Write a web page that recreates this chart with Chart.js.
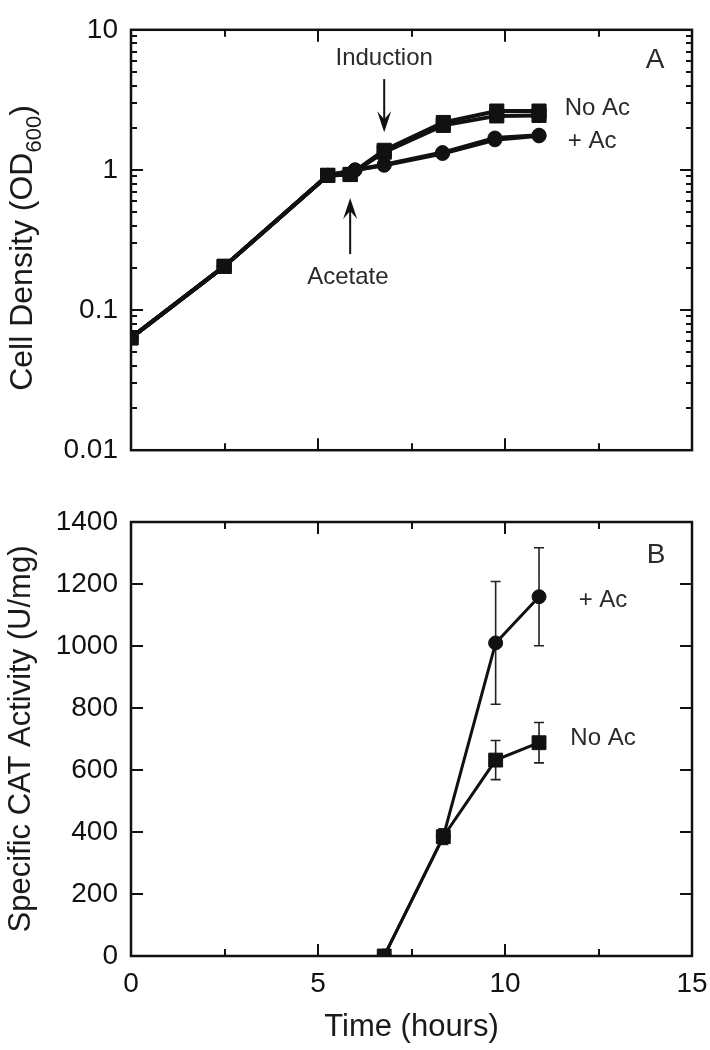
<!DOCTYPE html>
<html>
<head>
<meta charset="utf-8">
<script src="https://cdn.jsdelivr.net/npm/chart.js@4.4.1/dist/chart.umd.min.js"></script>
<style>
  html, body { margin: 0; padding: 0; background: #fff; }
  #wrap { position: relative; width: 710px; height: 1050px; }
  #wrapA { position: absolute; left: 0; top: 0; width: 710px; height: 480px; }
  #wrapB { position: absolute; left: 0; top: 480px; width: 710px; height: 570px; }
</style>
</head>
<body>
<div id="wrap">
  <div id="wrapA"><canvas id="growth"></canvas></div>
  <div id="wrapB"><canvas id="cat"></canvas></div>
</div>
<script>
// panel A - cell density, two cultures each
const timeNoAc = [0, 2.49, 5.26, 5.86, 6.77, 8.35, 9.78, 10.91];
const odNoAc1 = [0.0634, 0.205, 0.914, 0.928, 1.38, 2.18, 2.63, 2.63];
const odNoAc2 = [0.0634, 0.205, 0.914, 0.928, 1.34, 2.08, 2.43, 2.45];
const timeAc = [0, 2.49, 5.26, 5.99, 6.77, 8.33, 9.73, 10.91];
const odAc1 = [0.0634, 0.205, 0.914, 1.0, 1.09, 1.33, 1.69, 1.77];
const odAc2 = [0.0634, 0.205, 0.914, 1.0, 1.08, 1.31, 1.64, 1.75];

// panel B - specific CAT activity (U/mg)
const timeCat = [6.77, 8.35, 9.75, 10.91];
const catNoAc = [0, 385, 632, 688];
const catNoAcErr = [0, 25, 63, 65];
const catAc = [0, 385, 1010, 1159];
const catAcErr = [0, 25, 198, 158];

// axis ticks
const xTicks = [0, 5, 10, 15];
const xLabels = ['0', '5', '10', '15'];
const xMinor = [2.5, 7.5, 12.5];
const yTicksA = [0.01, 0.1, 1, 10];
const yLabelsA = ['0.01', '0.1', '1', '10'];
const yMinorA = [0.01, 0.1, 1].flatMap(d => [2, 3, 4, 5, 6, 7, 8, 9].map(k => k * d));
const yTicksB = [0, 200, 400, 600, 800, 1000, 1200, 1400];
const yLabelsB = ['0', '200', '400', '600', '800', '1000', '1200', '1400'];

const FONT = '"Liberation Sans", Arial, Helvetica, sans-serif';
const INK = '#111';

function pts(xs, ys) {
    return xs.map((t, i) => ({ x: t, y: ys[i] }));
}

function series(xs, ys, style, width, rectR, circR) {
    return {
        data: pts(xs, ys),
        borderColor: INK,
        backgroundColor: INK,
        borderWidth: width,
        pointStyle: style,
        pointRadius: style === 'rect' ? rectR : circR,
        pointBorderWidth: 1,
        pointBackgroundColor: INK,
        pointBorderColor: INK,
        tension: 0
    };
}

// frame with inward ticks on all four sides
function frameTicks(yMajor, yMinor) {
    return {
        id: 'frameTicks',
        beforeDatasetsDraw(chart) {
            const { ctx, chartArea: a, scales: { x, y } } = chart;
            ctx.save();
            ctx.strokeStyle = INK;
            ctx.lineWidth = 2;
            ctx.beginPath();
            const tx = (vals, len) => vals.forEach(v => {
                const px = Math.round(x.getPixelForValue(v));
                ctx.moveTo(px, a.bottom); ctx.lineTo(px, a.bottom - len);
                ctx.moveTo(px, a.top); ctx.lineTo(px, a.top + len);
            });
            const ty = (vals, len) => vals.forEach(v => {
                const py = Math.round(y.getPixelForValue(v));
                ctx.moveTo(a.left, py); ctx.lineTo(a.left + len, py);
                ctx.moveTo(a.right, py); ctx.lineTo(a.right - len, py);
            });
            tx(xTicks, 12);
            tx(xMinor, 7);
            ty(yMajor, 12);
            ty(yMinor, 6);
            ctx.stroke();
            ctx.lineWidth = 2.5;
            ctx.strokeRect(a.left, a.top, a.right - a.left, a.bottom - a.top);
            ctx.restore();
        }
    };
}

function arrow(ctx, x, y0, y1) {
    const dir = Math.sign(y1 - y0);
    ctx.beginPath();
    ctx.moveTo(x, y0);
    ctx.lineTo(x, y1 - dir * 12);
    ctx.stroke();
    ctx.beginPath();
    ctx.moveTo(x, y1);
    ctx.lineTo(x - 7, y1 - dir * 21);
    ctx.lineTo(x, y1 - dir * 13);
    ctx.lineTo(x + 7, y1 - dir * 21);
    ctx.closePath();
    ctx.fill();
}

// text notes, placed in data units
function notes(texts, arrows) {
    return {
        id: 'notes',
        afterDatasetsDraw(chart) {
            const { ctx, scales: { x, y } } = chart;
            ctx.save();
            ctx.fillStyle = '#2a2a2a';
            ctx.strokeStyle = INK;
            ctx.lineWidth = 2;
            ctx.textAlign = 'center';
            ctx.textBaseline = 'middle';
            texts.forEach(n => {
                ctx.font = n.size + 'px ' + FONT;
                ctx.fillText(n.text, x.getPixelForValue(n.x), y.getPixelForValue(n.y));
            });
            ctx.fillStyle = INK;
            arrows.forEach(n => {
                arrow(ctx, x.getPixelForValue(n.x), y.getPixelForValue(n.from), y.getPixelForValue(n.to));
            });
            ctx.restore();
        }
    };
}

// y title with subscript for panel A
const odTitle = {
    id: 'odTitle',
    afterDraw(chart) {
        const { ctx, chartArea: a } = chart;
        const parts = [
            ['Cell Density (OD', 32, 0],
            ['600', 22, 9],
            [')', 32, 0]
        ];
        ctx.save();
        ctx.translate(21, (a.top + a.bottom) / 2 + 8);
        ctx.rotate(-Math.PI / 2);
        ctx.fillStyle = '#1a1a1a';
        ctx.textBaseline = 'alphabetic';
        ctx.textAlign = 'left';
        let total = 0;
        parts.forEach(p => { ctx.font = p[1] + 'px ' + FONT; total += ctx.measureText(p[0]).width; });
        let cx = -total / 2;
        parts.forEach(p => {
            ctx.font = p[1] + 'px ' + FONT;
            ctx.fillText(p[0], cx, 11 + p[2]);
            cx += ctx.measureText(p[0]).width;
        });
        ctx.restore();
    }
};

const errorBars = {
    id: 'errorBars',
    beforeDatasetsDraw(chart) {
        const { ctx, scales: { x, y } } = chart;
        const sets = [[catNoAc, catNoAcErr], [catAc, catAcErr]];
        ctx.save();
        ctx.strokeStyle = '#222';
        ctx.lineWidth = 1.6;
        ctx.beginPath();
        sets.forEach(([vals, errs]) => {
            vals.forEach((v, i) => {
                if (!errs[i]) return;
                const px = x.getPixelForValue(timeCat[i]);
                const top = y.getPixelForValue(v + errs[i]);
                const bot = y.getPixelForValue(v - errs[i]);
                ctx.moveTo(px, top); ctx.lineTo(px, bot);
                ctx.moveTo(px - 5, top); ctx.lineTo(px + 5, top);
                ctx.moveTo(px - 5, bot); ctx.lineTo(px + 5, bot);
            });
        });
        ctx.stroke();
        ctx.restore();
    }
};

const tickFont = { family: FONT, size: 28 };

const chartA = new Chart(document.getElementById('growth'), {
    type: 'line',
    data: {
        datasets: [
            series(timeNoAc, odNoAc1, 'rect', 4, 10, 7),
            series(timeNoAc, odNoAc2, 'rect', 4, 10, 7),
            series(timeAc, odAc1, 'circle', 4, 10, 7),
            series(timeAc, odAc2, 'circle', 4, 10, 7)
        ]
    },
    options: {
        responsive: true,
        maintainAspectRatio: false,
        animation: false,
        layout: { padding: { top: 22, right: 18, bottom: 23, left: 0 } },
        plugins: { legend: { display: false }, tooltip: { enabled: false } },
        scales: {
            x: { type: 'linear', min: 0, max: 15, display: false },
            y: {
                type: 'logarithmic',
                min: 0.01,
                max: 10,
                afterBuildTicks: s => { s.ticks = yTicksA.map(v => ({ value: v })); },
                afterFit: s => { s.width = 131; },
                grid: { display: false, drawTicks: false },
                border: { display: false },
                ticks: { callback: (v, i) => yLabelsA[i], color: INK, padding: 13, font: tickFont }
            }
        }
    },
    plugins: [
        frameTicks(yTicksA, yMinorA),
        notes([
            { text: 'Induction', x: 6.77, y: 6.3, size: 24 },
            { text: 'Acetate', x: 5.80, y: 0.171, size: 24 },
            { text: 'No Ac', x: 12.47, y: 2.76, size: 24 },
            { text: '+ Ac', x: 12.33, y: 1.61, size: 24 },
            { text: 'A', x: 14.01, y: 6.1, size: 28 }
        ], [
            { x: 6.77, from: 4.45, to: 1.86 },
            { x: 5.86, from: 0.251, to: 0.63 }
        ]),
        odTitle
    ]
});

const chartB = new Chart(document.getElementById('cat'), {
    type: 'line',
    data: {
        datasets: [
            series(timeCat, catNoAc, 'rect', 3, 9.8, 7),
            series(timeCat, catAc, 'circle', 3, 9.8, 7)
        ]
    },
    options: {
        responsive: true,
        maintainAspectRatio: false,
        animation: false,
        layout: { padding: { top: 42, right: 18, bottom: 0, left: 0 } },
        plugins: { legend: { display: false }, tooltip: { enabled: false } },
        scales: {
            x: {
                type: 'linear',
                min: 0,
                max: 15,
                afterBuildTicks: s => { s.ticks = xTicks.map(v => ({ value: v })); },
                afterFit: s => { s.height = 94; s.paddingLeft = 0; s.paddingRight = 0; },
                grid: { display: false, drawTicks: false },
                border: { display: false },
                ticks: { callback: (v, i) => xLabels[i], color: INK, padding: 11, maxRotation: 0, font: tickFont },
                title: {
                    display: true,
                    text: 'Time (hours)',
                    color: '#1a1a1a',
                    font: { family: FONT, size: 31 },
                    padding: { top: 0, bottom: 4 }
                }
            },
            y: {
                type: 'linear',
                min: 0,
                max: 1400,
                afterBuildTicks: s => { s.ticks = yTicksB.map(v => ({ value: v })); },
                afterFit: s => { s.width = 131; },
                grid: { display: false, drawTicks: false },
                border: { display: false },
                ticks: { callback: (v, i) => yLabelsB[i], color: INK, padding: 13, font: tickFont },
                title: {
                    display: true,
                    text: 'Specific CAT Activity (U/mg)',
                    color: '#1a1a1a',
                    font: { family: FONT, size: 31 },
                    padding: { top: 3, bottom: 0 }
                }
            }
        }
    },
    plugins: [
        frameTicks(yTicksB, []),
        errorBars,
        notes([
            { text: 'B', x: 14.04, y: 1294, size: 28 },
            { text: '+ Ac', x: 12.62, y: 1148, size: 24 },
            { text: 'No Ac', x: 12.62, y: 703, size: 24 }
        ], [])
    ]
});
</script>
</body>
</html>
